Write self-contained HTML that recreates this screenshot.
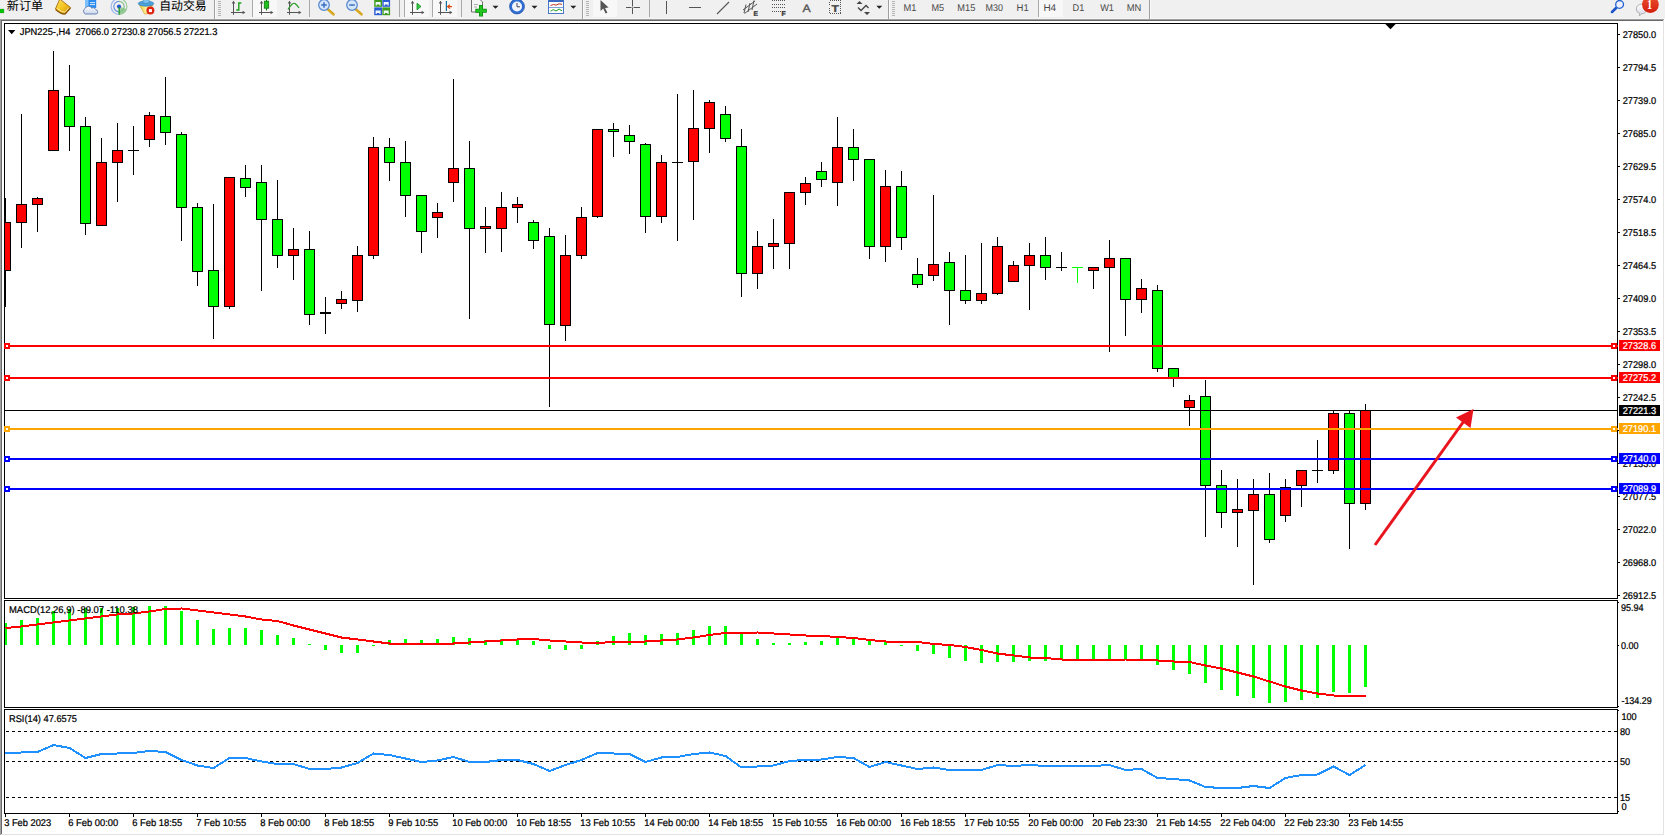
<!DOCTYPE html>
<html lang="zh"><head><meta charset="utf-8"><title>JPN225-,H4</title>
<style>
html,body{margin:0;padding:0;background:#fff;width:1665px;height:836px;overflow:hidden}
svg{display:block;position:absolute;left:0;top:0}
text{font-family:"Liberation Sans","Noto Sans CJK SC",sans-serif;font-size:9.8px;fill:#000;stroke:#000;stroke-width:0.24px;text-rendering:geometricPrecision}
.w{stroke:#fff}
.cn{stroke-width:0.05px}
.tf{stroke:none}
.cn{font-size:12px}
.tf{fill:#4a4a4a;font-size:9.8px}
.w{fill:#fff}
</style></head><body>
<svg width="1665" height="836" viewBox="0 0 1665 836">
<defs>
<linearGradient id="tbb" x1="0" y1="0" x2="0" y2="1"><stop offset="0" stop-color="#f0f0f0"/><stop offset="0.35" stop-color="#8a8a8a"/><stop offset="0.7" stop-color="#9c9c9c"/><stop offset="1" stop-color="#ffffff"/></linearGradient>
<clipPath id="cm"><rect x="5" y="24" width="1612" height="574"/></clipPath>
<clipPath id="ci"><rect x="5" y="601" width="1612" height="212"/></clipPath>
</defs>
<g shape-rendering="crispEdges">
<rect x="0" y="0" width="1665" height="836" fill="#ffffff"/>
<rect x="0" y="0" width="1665" height="19" fill="#f0f0f0"/>
<rect x="0" y="18" width="1665" height="1" fill="#f5f5f5"/>
<rect x="0" y="19" width="1665" height="1" fill="#a0a0a0"/>
<rect x="1" y="20" width="1664" height="1" fill="#696969"/>
<rect x="0" y="19" width="1" height="817" fill="#a0a0a0"/>
<rect x="1" y="20" width="1" height="815" fill="#696969"/>
<rect x="1663" y="20" width="1" height="815" fill="#e3e3e3"/>
<rect x="1664" y="19" width="1" height="817" fill="#ffffff"/>
<rect x="1" y="834" width="1663" height="1" fill="#e3e3e3"/>
<rect x="0" y="835" width="1665" height="1" fill="#ffffff"/>
<rect x="4" y="23" width="1614" height="1" fill="#000"/>
<rect x="4" y="598" width="1614" height="1" fill="#000"/>
<rect x="4" y="23" width="1" height="576" fill="#000"/>
<rect x="1617" y="23" width="1" height="576" fill="#000"/>
<rect x="4" y="600" width="1614" height="1" fill="#000"/>
<rect x="4" y="707" width="1614" height="1" fill="#000"/>
<rect x="4" y="600" width="1" height="108" fill="#000"/>
<rect x="1617" y="600" width="1" height="108" fill="#000"/>
<rect x="4" y="709" width="1614" height="1" fill="#000"/>
<rect x="4" y="813" width="1614" height="1" fill="#000"/>
<rect x="4" y="709" width="1" height="105" fill="#000"/>
<rect x="1617" y="709" width="1" height="105" fill="#000"/>
</g>
<g shape-rendering="crispEdges" clip-path="url(#cm)">
<rect x="5" y="198" width="1" height="109" fill="#000"/>
<rect x="0" y="222" width="11" height="49" fill="#000"/>
<rect x="1" y="223" width="9" height="47" fill="#ff0000"/>
<rect x="21" y="114" width="1" height="134" fill="#000"/>
<rect x="16" y="204" width="11" height="19" fill="#000"/>
<rect x="17" y="205" width="9" height="17" fill="#ff0000"/>
<rect x="37" y="197" width="1" height="35" fill="#000"/>
<rect x="32" y="198" width="11" height="7" fill="#000"/>
<rect x="33" y="199" width="9" height="5" fill="#ff0000"/>
<rect x="53" y="51" width="1" height="100" fill="#000"/>
<rect x="48" y="90" width="11" height="61" fill="#000"/>
<rect x="49" y="91" width="9" height="59" fill="#ff0000"/>
<rect x="69" y="65" width="1" height="86" fill="#000"/>
<rect x="64" y="96" width="11" height="31" fill="#000"/>
<rect x="65" y="97" width="9" height="29" fill="#00ff00"/>
<rect x="85" y="117" width="1" height="118" fill="#000"/>
<rect x="80" y="126" width="11" height="98" fill="#000"/>
<rect x="81" y="127" width="9" height="96" fill="#00ff00"/>
<rect x="101" y="138" width="1" height="88" fill="#000"/>
<rect x="96" y="162" width="11" height="64" fill="#000"/>
<rect x="97" y="163" width="9" height="62" fill="#ff0000"/>
<rect x="117" y="123" width="1" height="79" fill="#000"/>
<rect x="112" y="150" width="11" height="13" fill="#000"/>
<rect x="113" y="151" width="9" height="11" fill="#ff0000"/>
<rect x="133" y="126" width="1" height="49" fill="#000"/>
<rect x="128" y="150" width="11" height="1" fill="#000"/>
<rect x="149" y="112" width="1" height="35" fill="#000"/>
<rect x="144" y="115" width="11" height="25" fill="#000"/>
<rect x="145" y="116" width="9" height="23" fill="#ff0000"/>
<rect x="165" y="77" width="1" height="68" fill="#000"/>
<rect x="160" y="116" width="11" height="17" fill="#000"/>
<rect x="161" y="117" width="9" height="15" fill="#00ff00"/>
<rect x="181" y="132" width="1" height="109" fill="#000"/>
<rect x="176" y="134" width="11" height="74" fill="#000"/>
<rect x="177" y="135" width="9" height="72" fill="#00ff00"/>
<rect x="197" y="203" width="1" height="83" fill="#000"/>
<rect x="192" y="207" width="11" height="65" fill="#000"/>
<rect x="193" y="208" width="9" height="63" fill="#00ff00"/>
<rect x="213" y="204" width="1" height="135" fill="#000"/>
<rect x="208" y="270" width="11" height="37" fill="#000"/>
<rect x="209" y="271" width="9" height="35" fill="#00ff00"/>
<rect x="229" y="177" width="1" height="132" fill="#000"/>
<rect x="224" y="177" width="11" height="130" fill="#000"/>
<rect x="225" y="178" width="9" height="128" fill="#ff0000"/>
<rect x="245" y="165" width="1" height="32" fill="#000"/>
<rect x="240" y="178" width="11" height="10" fill="#000"/>
<rect x="241" y="179" width="9" height="8" fill="#00ff00"/>
<rect x="261" y="165" width="1" height="126" fill="#000"/>
<rect x="256" y="182" width="11" height="38" fill="#000"/>
<rect x="257" y="183" width="9" height="36" fill="#00ff00"/>
<rect x="277" y="180" width="1" height="88" fill="#000"/>
<rect x="272" y="219" width="11" height="37" fill="#000"/>
<rect x="273" y="220" width="9" height="35" fill="#00ff00"/>
<rect x="293" y="228" width="1" height="52" fill="#000"/>
<rect x="288" y="249" width="11" height="7" fill="#000"/>
<rect x="289" y="250" width="9" height="5" fill="#ff0000"/>
<rect x="309" y="231" width="1" height="94" fill="#000"/>
<rect x="304" y="249" width="11" height="66" fill="#000"/>
<rect x="305" y="250" width="9" height="64" fill="#00ff00"/>
<rect x="325" y="297" width="1" height="37" fill="#000"/>
<rect x="320" y="312" width="11" height="2" fill="#000"/>
<rect x="341" y="291" width="1" height="18" fill="#000"/>
<rect x="336" y="299" width="11" height="5" fill="#000"/>
<rect x="337" y="300" width="9" height="3" fill="#ff0000"/>
<rect x="357" y="246" width="1" height="66" fill="#000"/>
<rect x="352" y="255" width="11" height="46" fill="#000"/>
<rect x="353" y="256" width="9" height="44" fill="#ff0000"/>
<rect x="373" y="137" width="1" height="122" fill="#000"/>
<rect x="368" y="147" width="11" height="109" fill="#000"/>
<rect x="369" y="148" width="9" height="107" fill="#ff0000"/>
<rect x="389" y="138" width="1" height="43" fill="#000"/>
<rect x="384" y="147" width="11" height="16" fill="#000"/>
<rect x="385" y="148" width="9" height="14" fill="#00ff00"/>
<rect x="405" y="141" width="1" height="76" fill="#000"/>
<rect x="400" y="162" width="11" height="34" fill="#000"/>
<rect x="401" y="163" width="9" height="32" fill="#00ff00"/>
<rect x="421" y="195" width="1" height="58" fill="#000"/>
<rect x="416" y="195" width="11" height="37" fill="#000"/>
<rect x="417" y="196" width="9" height="35" fill="#00ff00"/>
<rect x="437" y="203" width="1" height="35" fill="#000"/>
<rect x="432" y="212" width="11" height="6" fill="#000"/>
<rect x="433" y="213" width="9" height="4" fill="#ff0000"/>
<rect x="453" y="79" width="1" height="123" fill="#000"/>
<rect x="448" y="168" width="11" height="15" fill="#000"/>
<rect x="449" y="169" width="9" height="13" fill="#ff0000"/>
<rect x="469" y="141" width="1" height="178" fill="#000"/>
<rect x="464" y="168" width="11" height="61" fill="#000"/>
<rect x="465" y="169" width="9" height="59" fill="#00ff00"/>
<rect x="485" y="207" width="1" height="46" fill="#000"/>
<rect x="480" y="226" width="11" height="3" fill="#000"/>
<rect x="481" y="227" width="9" height="1" fill="#ff0000"/>
<rect x="501" y="192" width="1" height="60" fill="#000"/>
<rect x="496" y="207" width="11" height="22" fill="#000"/>
<rect x="497" y="208" width="9" height="20" fill="#ff0000"/>
<rect x="517" y="197" width="1" height="26" fill="#000"/>
<rect x="512" y="204" width="11" height="4" fill="#000"/>
<rect x="513" y="205" width="9" height="2" fill="#ff0000"/>
<rect x="533" y="220" width="1" height="29" fill="#000"/>
<rect x="528" y="222" width="11" height="19" fill="#000"/>
<rect x="529" y="223" width="9" height="17" fill="#00ff00"/>
<rect x="549" y="228" width="1" height="179" fill="#000"/>
<rect x="544" y="236" width="11" height="89" fill="#000"/>
<rect x="545" y="237" width="9" height="87" fill="#00ff00"/>
<rect x="565" y="235" width="1" height="106" fill="#000"/>
<rect x="560" y="255" width="11" height="71" fill="#000"/>
<rect x="561" y="256" width="9" height="69" fill="#ff0000"/>
<rect x="581" y="207" width="1" height="52" fill="#000"/>
<rect x="576" y="217" width="11" height="39" fill="#000"/>
<rect x="577" y="218" width="9" height="37" fill="#ff0000"/>
<rect x="597" y="129" width="1" height="89" fill="#000"/>
<rect x="592" y="129" width="11" height="88" fill="#000"/>
<rect x="593" y="130" width="9" height="86" fill="#ff0000"/>
<rect x="613" y="123" width="1" height="34" fill="#000"/>
<rect x="608" y="129" width="11" height="3" fill="#000"/>
<rect x="609" y="130" width="9" height="1" fill="#00ff00"/>
<rect x="629" y="125" width="1" height="29" fill="#000"/>
<rect x="624" y="135" width="11" height="7" fill="#000"/>
<rect x="625" y="136" width="9" height="5" fill="#00ff00"/>
<rect x="645" y="143" width="1" height="90" fill="#000"/>
<rect x="640" y="144" width="11" height="73" fill="#000"/>
<rect x="641" y="145" width="9" height="71" fill="#00ff00"/>
<rect x="661" y="155" width="1" height="68" fill="#000"/>
<rect x="656" y="162" width="11" height="55" fill="#000"/>
<rect x="657" y="163" width="9" height="53" fill="#ff0000"/>
<rect x="677" y="94" width="1" height="147" fill="#000"/>
<rect x="672" y="162" width="11" height="1" fill="#000"/>
<rect x="693" y="90" width="1" height="130" fill="#000"/>
<rect x="688" y="128" width="11" height="34" fill="#000"/>
<rect x="689" y="129" width="9" height="32" fill="#ff0000"/>
<rect x="709" y="100" width="1" height="53" fill="#000"/>
<rect x="704" y="102" width="11" height="27" fill="#000"/>
<rect x="705" y="103" width="9" height="25" fill="#ff0000"/>
<rect x="725" y="106" width="1" height="36" fill="#000"/>
<rect x="720" y="114" width="11" height="25" fill="#000"/>
<rect x="721" y="115" width="9" height="23" fill="#00ff00"/>
<rect x="741" y="129" width="1" height="168" fill="#000"/>
<rect x="736" y="146" width="11" height="128" fill="#000"/>
<rect x="737" y="147" width="9" height="126" fill="#00ff00"/>
<rect x="757" y="231" width="1" height="58" fill="#000"/>
<rect x="752" y="246" width="11" height="28" fill="#000"/>
<rect x="753" y="247" width="9" height="26" fill="#ff0000"/>
<rect x="773" y="219" width="1" height="50" fill="#000"/>
<rect x="768" y="243" width="11" height="4" fill="#000"/>
<rect x="769" y="244" width="9" height="2" fill="#ff0000"/>
<rect x="789" y="192" width="1" height="77" fill="#000"/>
<rect x="784" y="192" width="11" height="52" fill="#000"/>
<rect x="785" y="193" width="9" height="50" fill="#ff0000"/>
<rect x="805" y="177" width="1" height="28" fill="#000"/>
<rect x="800" y="183" width="11" height="10" fill="#000"/>
<rect x="801" y="184" width="9" height="8" fill="#ff0000"/>
<rect x="821" y="162" width="1" height="25" fill="#000"/>
<rect x="816" y="171" width="11" height="9" fill="#000"/>
<rect x="817" y="172" width="9" height="7" fill="#00ff00"/>
<rect x="837" y="117" width="1" height="89" fill="#000"/>
<rect x="832" y="147" width="11" height="36" fill="#000"/>
<rect x="833" y="148" width="9" height="34" fill="#ff0000"/>
<rect x="853" y="129" width="1" height="52" fill="#000"/>
<rect x="848" y="147" width="11" height="13" fill="#000"/>
<rect x="849" y="148" width="9" height="11" fill="#00ff00"/>
<rect x="869" y="159" width="1" height="100" fill="#000"/>
<rect x="864" y="159" width="11" height="88" fill="#000"/>
<rect x="865" y="160" width="9" height="86" fill="#00ff00"/>
<rect x="885" y="170" width="1" height="92" fill="#000"/>
<rect x="880" y="186" width="11" height="61" fill="#000"/>
<rect x="881" y="187" width="9" height="59" fill="#ff0000"/>
<rect x="901" y="171" width="1" height="79" fill="#000"/>
<rect x="896" y="186" width="11" height="52" fill="#000"/>
<rect x="897" y="187" width="9" height="50" fill="#00ff00"/>
<rect x="917" y="258" width="1" height="30" fill="#000"/>
<rect x="912" y="274" width="11" height="11" fill="#000"/>
<rect x="913" y="275" width="9" height="9" fill="#00ff00"/>
<rect x="933" y="195" width="1" height="86" fill="#000"/>
<rect x="928" y="264" width="11" height="12" fill="#000"/>
<rect x="929" y="265" width="9" height="10" fill="#ff0000"/>
<rect x="949" y="252" width="1" height="73" fill="#000"/>
<rect x="944" y="262" width="11" height="29" fill="#000"/>
<rect x="945" y="263" width="9" height="27" fill="#00ff00"/>
<rect x="965" y="255" width="1" height="49" fill="#000"/>
<rect x="960" y="290" width="11" height="11" fill="#000"/>
<rect x="961" y="291" width="9" height="9" fill="#00ff00"/>
<rect x="981" y="243" width="1" height="61" fill="#000"/>
<rect x="976" y="293" width="11" height="8" fill="#000"/>
<rect x="977" y="294" width="9" height="6" fill="#ff0000"/>
<rect x="997" y="237" width="1" height="58" fill="#000"/>
<rect x="992" y="246" width="11" height="48" fill="#000"/>
<rect x="993" y="247" width="9" height="46" fill="#ff0000"/>
<rect x="1013" y="261" width="1" height="21" fill="#000"/>
<rect x="1008" y="265" width="11" height="17" fill="#000"/>
<rect x="1009" y="266" width="9" height="15" fill="#ff0000"/>
<rect x="1029" y="243" width="1" height="67" fill="#000"/>
<rect x="1024" y="255" width="11" height="11" fill="#000"/>
<rect x="1025" y="256" width="9" height="9" fill="#ff0000"/>
<rect x="1045" y="237" width="1" height="43" fill="#000"/>
<rect x="1040" y="255" width="11" height="13" fill="#000"/>
<rect x="1041" y="256" width="9" height="11" fill="#00ff00"/>
<rect x="1061" y="252" width="1" height="19" fill="#000"/>
<rect x="1056" y="267" width="11" height="1" fill="#000"/>
<rect x="1072" y="267" width="11" height="1" fill="#00ff00"/>
<rect x="1077" y="267" width="1" height="16" fill="#00ff00"/>
<rect x="1093" y="267" width="1" height="22" fill="#000"/>
<rect x="1088" y="267" width="11" height="4" fill="#000"/>
<rect x="1089" y="268" width="9" height="2" fill="#ff0000"/>
<rect x="1109" y="240" width="1" height="112" fill="#000"/>
<rect x="1104" y="258" width="11" height="10" fill="#000"/>
<rect x="1105" y="259" width="9" height="8" fill="#ff0000"/>
<rect x="1125" y="258" width="1" height="78" fill="#000"/>
<rect x="1120" y="258" width="11" height="42" fill="#000"/>
<rect x="1121" y="259" width="9" height="40" fill="#00ff00"/>
<rect x="1141" y="279" width="1" height="34" fill="#000"/>
<rect x="1136" y="288" width="11" height="12" fill="#000"/>
<rect x="1137" y="289" width="9" height="10" fill="#ff0000"/>
<rect x="1157" y="285" width="1" height="87" fill="#000"/>
<rect x="1152" y="290" width="11" height="79" fill="#000"/>
<rect x="1153" y="291" width="9" height="77" fill="#00ff00"/>
<rect x="1173" y="368" width="1" height="19" fill="#000"/>
<rect x="1168" y="368" width="11" height="11" fill="#000"/>
<rect x="1169" y="369" width="9" height="9" fill="#00ff00"/>
<rect x="1189" y="395" width="1" height="31" fill="#000"/>
<rect x="1184" y="400" width="11" height="8" fill="#000"/>
<rect x="1185" y="401" width="9" height="6" fill="#ff0000"/>
<rect x="1205" y="380" width="1" height="157" fill="#000"/>
<rect x="1200" y="396" width="11" height="90" fill="#000"/>
<rect x="1201" y="397" width="9" height="88" fill="#00ff00"/>
<rect x="1221" y="470" width="1" height="58" fill="#000"/>
<rect x="1216" y="485" width="11" height="28" fill="#000"/>
<rect x="1217" y="486" width="9" height="26" fill="#00ff00"/>
<rect x="1237" y="479" width="1" height="68" fill="#000"/>
<rect x="1232" y="509" width="11" height="4" fill="#000"/>
<rect x="1233" y="510" width="9" height="2" fill="#ff0000"/>
<rect x="1253" y="479" width="1" height="106" fill="#000"/>
<rect x="1248" y="494" width="11" height="17" fill="#000"/>
<rect x="1249" y="495" width="9" height="15" fill="#ff0000"/>
<rect x="1269" y="473" width="1" height="70" fill="#000"/>
<rect x="1264" y="494" width="11" height="46" fill="#000"/>
<rect x="1265" y="495" width="9" height="44" fill="#00ff00"/>
<rect x="1285" y="479" width="1" height="43" fill="#000"/>
<rect x="1280" y="487" width="11" height="29" fill="#000"/>
<rect x="1281" y="488" width="9" height="27" fill="#ff0000"/>
<rect x="1301" y="470" width="1" height="37" fill="#000"/>
<rect x="1296" y="470" width="11" height="16" fill="#000"/>
<rect x="1297" y="471" width="9" height="14" fill="#ff0000"/>
<rect x="1317" y="440" width="1" height="43" fill="#000"/>
<rect x="1312" y="470" width="11" height="1" fill="#000"/>
<rect x="1333" y="410" width="1" height="64" fill="#000"/>
<rect x="1328" y="413" width="11" height="58" fill="#000"/>
<rect x="1329" y="414" width="9" height="56" fill="#ff0000"/>
<rect x="1349" y="410" width="1" height="139" fill="#000"/>
<rect x="1344" y="413" width="11" height="91" fill="#000"/>
<rect x="1345" y="414" width="9" height="89" fill="#00ff00"/>
<rect x="1365" y="404" width="1" height="106" fill="#000"/>
<rect x="1360" y="410" width="11" height="94" fill="#000"/>
<rect x="1361" y="411" width="9" height="92" fill="#ff0000"/>
</g>
<g shape-rendering="crispEdges">
<rect x="5" y="410" width="1612" height="1" fill="#000"/>
<rect x="5" y="345" width="1612" height="2" fill="#ff0000"/>
<rect x="1617" y="345" width="1" height="2" fill="#ff0000"/>
<rect x="4" y="343" width="6" height="6" fill="#ff0000"/>
<rect x="6" y="345" width="2" height="2" fill="#fff"/>
<rect x="1611" y="343" width="6" height="6" fill="#ff0000"/>
<rect x="1613" y="345" width="2" height="2" fill="#fff"/>
<rect x="5" y="377" width="1612" height="2" fill="#ff0000"/>
<rect x="1617" y="377" width="1" height="2" fill="#ff0000"/>
<rect x="4" y="375" width="6" height="6" fill="#ff0000"/>
<rect x="6" y="377" width="2" height="2" fill="#fff"/>
<rect x="1611" y="375" width="6" height="6" fill="#ff0000"/>
<rect x="1613" y="377" width="2" height="2" fill="#fff"/>
<rect x="5" y="428" width="1612" height="2" fill="#ffa500"/>
<rect x="1617" y="428" width="1" height="2" fill="#ffa500"/>
<rect x="4" y="426" width="6" height="6" fill="#ffa500"/>
<rect x="6" y="428" width="2" height="2" fill="#fff"/>
<rect x="1611" y="426" width="6" height="6" fill="#ffa500"/>
<rect x="1613" y="428" width="2" height="2" fill="#fff"/>
<rect x="5" y="458" width="1612" height="2" fill="#0000ff"/>
<rect x="1617" y="458" width="1" height="2" fill="#0000ff"/>
<rect x="4" y="456" width="6" height="6" fill="#0000ff"/>
<rect x="6" y="458" width="2" height="2" fill="#fff"/>
<rect x="1611" y="456" width="6" height="6" fill="#0000ff"/>
<rect x="1613" y="458" width="2" height="2" fill="#fff"/>
<rect x="5" y="488" width="1612" height="2" fill="#0000ff"/>
<rect x="1617" y="488" width="1" height="2" fill="#0000ff"/>
<rect x="4" y="486" width="6" height="6" fill="#0000ff"/>
<rect x="6" y="488" width="2" height="2" fill="#fff"/>
<rect x="1611" y="486" width="6" height="6" fill="#0000ff"/>
<rect x="1613" y="488" width="2" height="2" fill="#fff"/>
</g>
<g>
<line x1="1375" y1="545" x2="1464" y2="421" stroke="#e8141e" stroke-width="3"/>
<polygon points="1473.5,409 1456,417.5 1470.5,428" fill="#e8141e"/>
</g>
<polygon points="1385.3,24 1395.7,24 1390.5,29.2" fill="#000"/>
<polygon points="8,30 15.4,30 11.7,34.2" fill="#000"/>
<g shape-rendering="crispEdges" clip-path="url(#ci)">
<rect x="4" y="623" width="3" height="22" fill="#00ff00"/>
<rect x="20" y="620" width="3" height="25" fill="#00ff00"/>
<rect x="36" y="618" width="3" height="27" fill="#00ff00"/>
<rect x="52" y="611" width="3" height="34" fill="#00ff00"/>
<rect x="68" y="609" width="3" height="36" fill="#00ff00"/>
<rect x="84" y="608" width="3" height="37" fill="#00ff00"/>
<rect x="100" y="608" width="3" height="37" fill="#00ff00"/>
<rect x="116" y="608" width="3" height="37" fill="#00ff00"/>
<rect x="132" y="607" width="3" height="38" fill="#00ff00"/>
<rect x="148" y="606" width="3" height="39" fill="#00ff00"/>
<rect x="164" y="606" width="3" height="39" fill="#00ff00"/>
<rect x="180" y="611" width="3" height="34" fill="#00ff00"/>
<rect x="196" y="620" width="3" height="25" fill="#00ff00"/>
<rect x="212" y="629" width="3" height="16" fill="#00ff00"/>
<rect x="228" y="628" width="3" height="17" fill="#00ff00"/>
<rect x="244" y="628" width="3" height="17" fill="#00ff00"/>
<rect x="260" y="630" width="3" height="15" fill="#00ff00"/>
<rect x="276" y="635" width="3" height="10" fill="#00ff00"/>
<rect x="292" y="638" width="3" height="7" fill="#00ff00"/>
<rect x="308" y="644" width="3" height="1" fill="#00ff00"/>
<rect x="324" y="645" width="3" height="5" fill="#00ff00"/>
<rect x="340" y="645" width="3" height="8" fill="#00ff00"/>
<rect x="356" y="645" width="3" height="8" fill="#00ff00"/>
<rect x="372" y="645" width="3" height="1" fill="#00ff00"/>
<rect x="388" y="640" width="3" height="5" fill="#00ff00"/>
<rect x="404" y="639" width="3" height="6" fill="#00ff00"/>
<rect x="420" y="640" width="3" height="5" fill="#00ff00"/>
<rect x="436" y="639" width="3" height="6" fill="#00ff00"/>
<rect x="452" y="637" width="3" height="8" fill="#00ff00"/>
<rect x="468" y="638" width="3" height="7" fill="#00ff00"/>
<rect x="484" y="640" width="3" height="5" fill="#00ff00"/>
<rect x="500" y="639" width="3" height="6" fill="#00ff00"/>
<rect x="516" y="640" width="3" height="5" fill="#00ff00"/>
<rect x="532" y="641" width="3" height="4" fill="#00ff00"/>
<rect x="548" y="645" width="3" height="4" fill="#00ff00"/>
<rect x="564" y="645" width="3" height="5" fill="#00ff00"/>
<rect x="580" y="645" width="3" height="4" fill="#00ff00"/>
<rect x="596" y="641" width="3" height="4" fill="#00ff00"/>
<rect x="612" y="636" width="3" height="9" fill="#00ff00"/>
<rect x="628" y="633" width="3" height="12" fill="#00ff00"/>
<rect x="644" y="635" width="3" height="10" fill="#00ff00"/>
<rect x="660" y="634" width="3" height="11" fill="#00ff00"/>
<rect x="676" y="633" width="3" height="12" fill="#00ff00"/>
<rect x="692" y="630" width="3" height="15" fill="#00ff00"/>
<rect x="708" y="626" width="3" height="19" fill="#00ff00"/>
<rect x="724" y="626" width="3" height="19" fill="#00ff00"/>
<rect x="740" y="633" width="3" height="12" fill="#00ff00"/>
<rect x="756" y="639" width="3" height="6" fill="#00ff00"/>
<rect x="772" y="643" width="3" height="2" fill="#00ff00"/>
<rect x="788" y="643" width="3" height="2" fill="#00ff00"/>
<rect x="804" y="642" width="3" height="3" fill="#00ff00"/>
<rect x="820" y="641" width="3" height="4" fill="#00ff00"/>
<rect x="836" y="638" width="3" height="7" fill="#00ff00"/>
<rect x="852" y="638" width="3" height="7" fill="#00ff00"/>
<rect x="868" y="641" width="3" height="4" fill="#00ff00"/>
<rect x="884" y="642" width="3" height="3" fill="#00ff00"/>
<rect x="900" y="645" width="3" height="1" fill="#00ff00"/>
<rect x="916" y="645" width="3" height="6" fill="#00ff00"/>
<rect x="932" y="645" width="3" height="9" fill="#00ff00"/>
<rect x="948" y="645" width="3" height="13" fill="#00ff00"/>
<rect x="964" y="645" width="3" height="16" fill="#00ff00"/>
<rect x="980" y="645" width="3" height="18" fill="#00ff00"/>
<rect x="996" y="645" width="3" height="17" fill="#00ff00"/>
<rect x="1012" y="645" width="3" height="17" fill="#00ff00"/>
<rect x="1028" y="645" width="3" height="16" fill="#00ff00"/>
<rect x="1044" y="645" width="3" height="16" fill="#00ff00"/>
<rect x="1060" y="645" width="3" height="15" fill="#00ff00"/>
<rect x="1076" y="645" width="3" height="15" fill="#00ff00"/>
<rect x="1092" y="645" width="3" height="15" fill="#00ff00"/>
<rect x="1108" y="645" width="3" height="15" fill="#00ff00"/>
<rect x="1124" y="645" width="3" height="15" fill="#00ff00"/>
<rect x="1140" y="645" width="3" height="15" fill="#00ff00"/>
<rect x="1156" y="645" width="3" height="20" fill="#00ff00"/>
<rect x="1172" y="645" width="3" height="25" fill="#00ff00"/>
<rect x="1188" y="645" width="3" height="29" fill="#00ff00"/>
<rect x="1204" y="645" width="3" height="38" fill="#00ff00"/>
<rect x="1220" y="645" width="3" height="45" fill="#00ff00"/>
<rect x="1236" y="645" width="3" height="51" fill="#00ff00"/>
<rect x="1252" y="645" width="3" height="53" fill="#00ff00"/>
<rect x="1268" y="645" width="3" height="58" fill="#00ff00"/>
<rect x="1284" y="645" width="3" height="57" fill="#00ff00"/>
<rect x="1300" y="645" width="3" height="55" fill="#00ff00"/>
<rect x="1316" y="645" width="3" height="53" fill="#00ff00"/>
<rect x="1332" y="645" width="3" height="47" fill="#00ff00"/>
<rect x="1348" y="645" width="3" height="48" fill="#00ff00"/>
<rect x="1364" y="645" width="3" height="42" fill="#00ff00"/>
<polyline points="5.5,628 21.5,626.5 37.5,624.5 53.5,622.5 69.5,620.5 85.5,618.5 101.5,616.5 117.5,614.5 133.5,613.5 149.5,611.5 165.5,609 181.5,608.5 197.5,610.5 213.5,612.5 229.5,614.5 245.5,616.5 261.5,619.5 277.5,621 293.5,625.5 309.5,629.5 325.5,633.5 341.5,637.5 357.5,639.5 373.5,641.5 389.5,643.5 405.5,643.5 421.5,643.5 437.5,643.5 453.5,643.5 469.5,642.5 485.5,641.5 501.5,640.5 517.5,639.5 533.5,639 549.5,640.5 565.5,641.5 581.5,642.5 597.5,643 613.5,642 629.5,642 645.5,641.5 661.5,640.5 677.5,639.5 693.5,637.5 709.5,635 725.5,633 741.5,633 757.5,632.5 773.5,633.5 789.5,634.5 805.5,635.5 821.5,636 837.5,637 853.5,638 869.5,640 885.5,641.5 901.5,642 917.5,642 933.5,644 949.5,645 965.5,647 981.5,650 997.5,653.5 1013.5,655.5 1029.5,657.5 1045.5,658 1061.5,659.5 1077.5,660 1093.5,660 1109.5,660 1125.5,659.5 1141.5,659.5 1157.5,660.5 1173.5,661.5 1189.5,662 1205.5,665.5 1221.5,668.5 1237.5,672.5 1253.5,676.5 1269.5,681.5 1285.5,686.5 1301.5,690.5 1317.5,693.5 1333.5,695.5 1349.5,696 1365.5,696" fill="none" stroke="#ff0000" stroke-width="2"/>
</g>
<g shape-rendering="crispEdges" clip-path="url(#ci)">
<line x1="6" y1="731.5" x2="1617" y2="731.5" stroke="#000" stroke-width="1" stroke-dasharray="3 3"/>
<line x1="6" y1="761.5" x2="1617" y2="761.5" stroke="#000" stroke-width="1" stroke-dasharray="3 3"/>
<line x1="6" y1="797.5" x2="1617" y2="797.5" stroke="#000" stroke-width="1" stroke-dasharray="3 3"/>
<polyline points="5.5,753 21.5,752.5 37.5,752 53.5,745 69.5,748 85.5,758 101.5,754 117.5,753.5 133.5,753 149.5,751 165.5,752 181.5,760 197.5,765.5 213.5,768 229.5,758 245.5,758 261.5,761.5 277.5,764 293.5,764 309.5,769 325.5,769 341.5,767.5 357.5,763 373.5,753.5 389.5,755 405.5,758.5 421.5,762 437.5,760.5 453.5,757 469.5,762 485.5,762 501.5,760 517.5,760 533.5,764 549.5,771 565.5,765 581.5,760 597.5,753 613.5,753.5 629.5,754 645.5,762 661.5,757.5 677.5,757 693.5,754 709.5,752.5 725.5,756 741.5,767.5 757.5,766.5 773.5,765.5 789.5,761 805.5,760 821.5,759.5 837.5,757 853.5,758 869.5,767 885.5,762 901.5,765.5 917.5,769 933.5,767.5 949.5,770 965.5,770 981.5,770 997.5,765 1013.5,766 1029.5,765 1045.5,766 1061.5,766 1077.5,766 1093.5,766 1109.5,765 1125.5,770 1141.5,769 1157.5,778 1173.5,779 1189.5,780.5 1205.5,787 1221.5,788 1237.5,788 1253.5,786 1269.5,788 1285.5,778 1301.5,775 1317.5,774.5 1333.5,766.5 1349.5,775 1365.5,765" fill="none" stroke="#1e90ff" stroke-width="2"/>
</g>
<g shape-rendering="crispEdges">
<rect x="1618" y="34" width="2" height="1" fill="#000"/>
<rect x="1618" y="67" width="2" height="1" fill="#000"/>
<rect x="1618" y="100" width="2" height="1" fill="#000"/>
<rect x="1618" y="133" width="2" height="1" fill="#000"/>
<rect x="1618" y="166" width="2" height="1" fill="#000"/>
<rect x="1618" y="199" width="2" height="1" fill="#000"/>
<rect x="1618" y="232" width="2" height="1" fill="#000"/>
<rect x="1618" y="265" width="2" height="1" fill="#000"/>
<rect x="1618" y="298" width="2" height="1" fill="#000"/>
<rect x="1618" y="331" width="2" height="1" fill="#000"/>
<rect x="1618" y="364" width="2" height="1" fill="#000"/>
<rect x="1618" y="397" width="2" height="1" fill="#000"/>
<rect x="1618" y="430" width="2" height="1" fill="#000"/>
<rect x="1618" y="463" width="2" height="1" fill="#000"/>
<rect x="1618" y="496" width="2" height="1" fill="#000"/>
<rect x="1618" y="529" width="2" height="1" fill="#000"/>
<rect x="1618" y="562" width="2" height="1" fill="#000"/>
<rect x="1618" y="595" width="2" height="1" fill="#000"/>
<rect x="1618" y="645" width="1" height="1" fill="#000"/>
<rect x="1618" y="602" width="1" height="1" fill="#000"/>
<rect x="1618" y="706" width="1" height="1" fill="#000"/>
<rect x="1618" y="710" width="1" height="1" fill="#000"/>
<rect x="1618" y="811" width="1" height="1" fill="#000"/>
</g>
<text x="1622.7" y="38" textLength="33.4" lengthAdjust="spacingAndGlyphs">27850.0</text>
<text x="1622.7" y="71" textLength="33.4" lengthAdjust="spacingAndGlyphs">27794.5</text>
<text x="1622.7" y="104" textLength="33.4" lengthAdjust="spacingAndGlyphs">27739.0</text>
<text x="1622.7" y="137" textLength="33.4" lengthAdjust="spacingAndGlyphs">27685.0</text>
<text x="1622.7" y="170" textLength="33.4" lengthAdjust="spacingAndGlyphs">27629.5</text>
<text x="1622.7" y="203" textLength="33.4" lengthAdjust="spacingAndGlyphs">27574.0</text>
<text x="1622.7" y="236" textLength="33.4" lengthAdjust="spacingAndGlyphs">27518.5</text>
<text x="1622.7" y="269" textLength="33.4" lengthAdjust="spacingAndGlyphs">27464.5</text>
<text x="1622.7" y="302" textLength="33.4" lengthAdjust="spacingAndGlyphs">27409.0</text>
<text x="1622.7" y="335" textLength="33.4" lengthAdjust="spacingAndGlyphs">27353.5</text>
<text x="1622.7" y="368" textLength="33.4" lengthAdjust="spacingAndGlyphs">27298.0</text>
<text x="1622.7" y="401" textLength="33.4" lengthAdjust="spacingAndGlyphs">27242.5</text>
<text x="1622.7" y="467" textLength="33.4" lengthAdjust="spacingAndGlyphs">27133.0</text>
<text x="1622.7" y="500" textLength="33.4" lengthAdjust="spacingAndGlyphs">27077.5</text>
<text x="1622.7" y="533" textLength="33.4" lengthAdjust="spacingAndGlyphs">27022.0</text>
<text x="1622.7" y="566" textLength="33.4" lengthAdjust="spacingAndGlyphs">26968.0</text>
<text x="1622.7" y="599" textLength="33.4" lengthAdjust="spacingAndGlyphs">26912.5</text>
<g shape-rendering="crispEdges">
<rect x="1619" y="340" width="41" height="11" fill="#ff0000"/>
<rect x="1619" y="372" width="41" height="11" fill="#ff0000"/>
<rect x="1619" y="423" width="41" height="11" fill="#ffa500"/>
<rect x="1619" y="453" width="41" height="11" fill="#0000ff"/>
<rect x="1619" y="483" width="41" height="11" fill="#0000ff"/>
<rect x="1619" y="405" width="41" height="11" fill="#000"/>
</g>
<text class="w" x="1622.7" y="349" textLength="33.4" lengthAdjust="spacingAndGlyphs">27328.6</text>
<text class="w" x="1622.7" y="381" textLength="33.4" lengthAdjust="spacingAndGlyphs">27275.2</text>
<text class="w" x="1622.7" y="432" textLength="33.4" lengthAdjust="spacingAndGlyphs">27190.1</text>
<text class="w" x="1622.7" y="462" textLength="33.4" lengthAdjust="spacingAndGlyphs">27140.0</text>
<text class="w" x="1622.7" y="492" textLength="33.4" lengthAdjust="spacingAndGlyphs">27089.9</text>
<text class="w" x="1622.7" y="414" textLength="33.4" lengthAdjust="spacingAndGlyphs">27221.3</text>
<text x="1621" y="611" textLength="22.6" lengthAdjust="spacingAndGlyphs">95.94</text>
<text x="1621" y="649" textLength="17.6" lengthAdjust="spacingAndGlyphs">0.00</text>
<text x="1621.4" y="704" textLength="30.4" lengthAdjust="spacingAndGlyphs">-134.29</text>
<text x="1621.4" y="720" textLength="15.2" lengthAdjust="spacingAndGlyphs">100</text>
<text x="1620" y="735" textLength="10.2" lengthAdjust="spacingAndGlyphs">80</text>
<text x="1620" y="765" textLength="10.2" lengthAdjust="spacingAndGlyphs">50</text>
<text x="1620" y="801" textLength="10.2" lengthAdjust="spacingAndGlyphs">15</text>
<text x="1621.4" y="810.3" textLength="5.2" lengthAdjust="spacingAndGlyphs">0</text>
<text x="19.8" y="34.9" textLength="197.5" lengthAdjust="spacingAndGlyphs">JPN225-,H4&#160;&#160;27066.0 27230.8 27056.5 27221.3</text>
<text x="9" y="612.9" textLength="129" lengthAdjust="spacingAndGlyphs">MACD(12,26,9) -89.07 -110.38</text>
<text x="9" y="721.9" textLength="68" lengthAdjust="spacingAndGlyphs">RSI(14) 47.6575</text>
<g shape-rendering="crispEdges">
<rect x="5" y="814" width="1" height="3" fill="#000"/>
<rect x="69" y="814" width="1" height="3" fill="#000"/>
<rect x="133" y="814" width="1" height="3" fill="#000"/>
<rect x="197" y="814" width="1" height="3" fill="#000"/>
<rect x="261" y="814" width="1" height="3" fill="#000"/>
<rect x="325" y="814" width="1" height="3" fill="#000"/>
<rect x="389" y="814" width="1" height="3" fill="#000"/>
<rect x="453" y="814" width="1" height="3" fill="#000"/>
<rect x="517" y="814" width="1" height="3" fill="#000"/>
<rect x="581" y="814" width="1" height="3" fill="#000"/>
<rect x="645" y="814" width="1" height="3" fill="#000"/>
<rect x="709" y="814" width="1" height="3" fill="#000"/>
<rect x="773" y="814" width="1" height="3" fill="#000"/>
<rect x="837" y="814" width="1" height="3" fill="#000"/>
<rect x="901" y="814" width="1" height="3" fill="#000"/>
<rect x="965" y="814" width="1" height="3" fill="#000"/>
<rect x="1029" y="814" width="1" height="3" fill="#000"/>
<rect x="1093" y="814" width="1" height="3" fill="#000"/>
<rect x="1157" y="814" width="1" height="3" fill="#000"/>
<rect x="1221" y="814" width="1" height="3" fill="#000"/>
<rect x="1285" y="814" width="1" height="3" fill="#000"/>
<rect x="1349" y="814" width="1" height="3" fill="#000"/>
</g>
<text x="4.2" y="826" textLength="47" lengthAdjust="spacingAndGlyphs">3 Feb 2023</text>
<text x="68.2" y="826" textLength="50" lengthAdjust="spacingAndGlyphs">6 Feb 00:00</text>
<text x="132.2" y="826" textLength="50" lengthAdjust="spacingAndGlyphs">6 Feb 18:55</text>
<text x="196.2" y="826" textLength="50" lengthAdjust="spacingAndGlyphs">7 Feb 10:55</text>
<text x="260.2" y="826" textLength="50" lengthAdjust="spacingAndGlyphs">8 Feb 00:00</text>
<text x="324.2" y="826" textLength="50" lengthAdjust="spacingAndGlyphs">8 Feb 18:55</text>
<text x="388.2" y="826" textLength="50" lengthAdjust="spacingAndGlyphs">9 Feb 10:55</text>
<text x="452.2" y="826" textLength="55" lengthAdjust="spacingAndGlyphs">10 Feb 00:00</text>
<text x="516.2" y="826" textLength="55" lengthAdjust="spacingAndGlyphs">10 Feb 18:55</text>
<text x="580.2" y="826" textLength="55" lengthAdjust="spacingAndGlyphs">13 Feb 10:55</text>
<text x="644.2" y="826" textLength="55" lengthAdjust="spacingAndGlyphs">14 Feb 00:00</text>
<text x="708.2" y="826" textLength="55" lengthAdjust="spacingAndGlyphs">14 Feb 18:55</text>
<text x="772.2" y="826" textLength="55" lengthAdjust="spacingAndGlyphs">15 Feb 10:55</text>
<text x="836.2" y="826" textLength="55" lengthAdjust="spacingAndGlyphs">16 Feb 00:00</text>
<text x="900.2" y="826" textLength="55" lengthAdjust="spacingAndGlyphs">16 Feb 18:55</text>
<text x="964.2" y="826" textLength="55" lengthAdjust="spacingAndGlyphs">17 Feb 10:55</text>
<text x="1028.2" y="826" textLength="55" lengthAdjust="spacingAndGlyphs">20 Feb 00:00</text>
<text x="1092.2" y="826" textLength="55" lengthAdjust="spacingAndGlyphs">20 Feb 23:30</text>
<text x="1156.2" y="826" textLength="55" lengthAdjust="spacingAndGlyphs">21 Feb 14:55</text>
<text x="1220.2" y="826" textLength="55" lengthAdjust="spacingAndGlyphs">22 Feb 04:00</text>
<text x="1284.2" y="826" textLength="55" lengthAdjust="spacingAndGlyphs">22 Feb 23:30</text>
<text x="1348.2" y="826" textLength="55" lengthAdjust="spacingAndGlyphs">23 Feb 14:55</text>
<g id="toolbar">
<g shape-rendering="crispEdges">
<rect x="253" y="0" width="24" height="17" fill="#f8f8f8"/>
<rect x="405" y="0" width="24" height="17" fill="#f8f8f8"/>
<rect x="433" y="0" width="24" height="17" fill="#f8f8f8"/>
<rect x="593" y="0" width="24" height="17" fill="#f8f8f8"/>
<rect x="1039" y="0" width="24" height="17" fill="#f8f8f8"/>
<rect x="252" y="0" width="1" height="17" fill="#a9a9a9"/>
<rect x="309" y="0" width="1" height="17" fill="#a9a9a9"/>
<rect x="399" y="0" width="1" height="17" fill="#a9a9a9"/>
<rect x="404" y="0" width="1" height="17" fill="#a9a9a9"/>
<rect x="432" y="0" width="1" height="17" fill="#a9a9a9"/>
<rect x="461" y="0" width="1" height="17" fill="#a9a9a9"/>
<rect x="649" y="0" width="1" height="17" fill="#a9a9a9"/>
<rect x="1038" y="0" width="1" height="17" fill="#a9a9a9"/>
<rect x="214" y="0" width="1" height="19" fill="#a0a0a0"/><rect x="215" y="0" width="1" height="19" fill="#fbfbfb"/>
<rect x="582" y="0" width="1" height="19" fill="#a0a0a0"/><rect x="583" y="0" width="1" height="19" fill="#fbfbfb"/>
<rect x="888" y="0" width="1" height="19" fill="#a0a0a0"/><rect x="889" y="0" width="1" height="19" fill="#fbfbfb"/>
<rect x="1149" y="0" width="1" height="19" fill="#a0a0a0"/><rect x="1150" y="0" width="1" height="19" fill="#fbfbfb"/>
<rect x="218" y="1" width="3" height="1" fill="#b5b5b5"/>
<rect x="218" y="3" width="3" height="1" fill="#b5b5b5"/>
<rect x="218" y="5" width="3" height="1" fill="#b5b5b5"/>
<rect x="218" y="7" width="3" height="1" fill="#b5b5b5"/>
<rect x="218" y="9" width="3" height="1" fill="#b5b5b5"/>
<rect x="218" y="11" width="3" height="1" fill="#b5b5b5"/>
<rect x="218" y="13" width="3" height="1" fill="#b5b5b5"/>
<rect x="218" y="15" width="3" height="1" fill="#b5b5b5"/>
<rect x="586" y="1" width="3" height="1" fill="#b5b5b5"/>
<rect x="586" y="3" width="3" height="1" fill="#b5b5b5"/>
<rect x="586" y="5" width="3" height="1" fill="#b5b5b5"/>
<rect x="586" y="7" width="3" height="1" fill="#b5b5b5"/>
<rect x="586" y="9" width="3" height="1" fill="#b5b5b5"/>
<rect x="586" y="11" width="3" height="1" fill="#b5b5b5"/>
<rect x="586" y="13" width="3" height="1" fill="#b5b5b5"/>
<rect x="586" y="15" width="3" height="1" fill="#b5b5b5"/>
<rect x="892" y="1" width="3" height="1" fill="#b5b5b5"/>
<rect x="892" y="3" width="3" height="1" fill="#b5b5b5"/>
<rect x="892" y="5" width="3" height="1" fill="#b5b5b5"/>
<rect x="892" y="7" width="3" height="1" fill="#b5b5b5"/>
<rect x="892" y="9" width="3" height="1" fill="#b5b5b5"/>
<rect x="892" y="11" width="3" height="1" fill="#b5b5b5"/>
<rect x="892" y="13" width="3" height="1" fill="#b5b5b5"/>
<rect x="892" y="15" width="3" height="1" fill="#b5b5b5"/>
</g>
<rect x="-1" y="9.2" width="4.8" height="3.6" fill="#00c800" stroke="#009a00" stroke-width="0.6"/>
<text class="cn" x="6.8" y="9.8" textLength="36.4" lengthAdjust="spacingAndGlyphs">新订单</text>
<defs><linearGradient id="gbk" x1="0" y1="0" x2="1" y2="1"><stop offset="0" stop-color="#ffe860"/><stop offset="0.55" stop-color="#f2c020"/><stop offset="1" stop-color="#c88a10"/></linearGradient><linearGradient id="gcl" x1="0" y1="0" x2="0" y2="1"><stop offset="0" stop-color="#ffffff"/><stop offset="1" stop-color="#c9d6ec"/></linearGradient><linearGradient id="ghat" x1="0" y1="0" x2="1" y2="0"><stop offset="0" stop-color="#f0c828"/><stop offset="0.5" stop-color="#fff2a0"/><stop offset="1" stop-color="#e8b820"/></linearGradient></defs>
<path d="M59.8 -1 L70.6 7.6 L65.3 14 Q62 14.6 55.4 9 Z" fill="url(#gbk)" stroke="#a86c10" stroke-width="0.9"/>
<path d="M55.6 9.4 Q61.5 14.6 65.2 13.8 L70.4 8" stroke="#8c5a0c" stroke-width="1.3" fill="none"/>
<path d="M57.4 8.6 Q62.2 12.6 65 12.2 L69 7.6" stroke="#fff0b0" stroke-width="0.8" fill="none"/>
<path d="M85 -1 H96.2 V8 H85 Z" fill="#2a8cf0"/>
<path d="M85 -1 H88.5 V8 H85 Z" fill="#7cc0ff"/>
<path d="M90 2.6 H95 M90 4.6 H95" stroke="#e8f4ff" stroke-width="0.9"/>
<path d="M85.4 14 a3.1 3.1 0 0 1 -0.2 -5.6 a3.6 3.6 0 0 1 6.4 -0.4 a2.9 2.9 0 0 1 4 1.5 a2.5 2.5 0 0 1 1 4.5 Z" fill="url(#gcl)" stroke="#5f7bb2" stroke-width="0.9"/>
<path d="M119 -1.3 A7.9 7.9 0 0 0 119 14.5" fill="none" stroke="#9db8ea" stroke-width="1.2"/>
<path d="M119 1.4 A5.2 5.2 0 0 0 119 11.8" fill="none" stroke="#6f96e0" stroke-width="1.2"/>
<path d="M119 -1.3 A7.9 7.9 0 0 1 119 14.5" fill="none" stroke="#9ccb9c" stroke-width="1.2"/>
<path d="M119 1.4 A5.2 5.2 0 0 1 119 11.8" fill="none" stroke="#84bd8a" stroke-width="1.2"/>
<path d="M119 6.6 L119 14.4 A7.8 7.8 0 0 0 126.4 9 Z" fill="#7fc07f" opacity="0.75"/>
<circle cx="119" cy="6.6" r="2.1" fill="#2a58d0"/>
<rect x="118.5" y="7" width="1.3" height="7.6" fill="#1f9a2a"/>
<path d="M139.5 5 L152.8 5 L147.2 14 L144.6 14 Z" fill="url(#ghat)" stroke="#c89c20" stroke-width="0.6"/>
<ellipse cx="146" cy="3.6" rx="7.8" ry="2.6" fill="#4aa0d8" stroke="#2f7ab4" stroke-width="0.6"/>
<path d="M142.6 2.6 Q143.5 -2 145.8 -3 L147 -3 Q148.8 -2 149.8 2.6 Q146 4.2 142.6 2.6 Z" fill="#7cc0ec" stroke="#2f7ab4" stroke-width="0.5"/>
<circle cx="150.4" cy="10.6" r="4" fill="#e02410"/>
<rect x="148.9" y="9.1" width="3" height="3" fill="#fff"/>
<text class="cn" x="159.2" y="9.7" textLength="47.4" lengthAdjust="spacingAndGlyphs">自动交易</text>
<path d="M233.5 1.5 V14.8 M231 12.5 H244.6" stroke="#555" stroke-width="1" fill="none"/><path d="M231.7 3.6 L233.5 0.8 L235.3 3.6 Z M242.6 10.7 L245.4 12.5 L242.6 14.3 Z" fill="#555"/>
<path d="M236.3 10 H238.8 V3 H241.3" stroke="#18a018" stroke-width="1.4" fill="none" stroke-linejoin="miter"/>
<path d="M261.5 1.5 V14.8 M259 12.5 H272.6" stroke="#555" stroke-width="1" fill="none"/><path d="M259.7 3.6 L261.5 0.8 L263.3 3.6 Z M270.6 10.7 L273.4 12.5 L270.6 14.3 Z" fill="#555"/>
<path d="M266.5 0 V10.5" stroke="#0a7a0a" stroke-width="1"/>
<rect x="264.3" y="1.2" width="4.4" height="7" fill="#20c020" stroke="#0a7a0a" stroke-width="0.8"/>
<path d="M289.5 1.5 V14.8 M287 12.5 H300.6" stroke="#555" stroke-width="1" fill="none"/><path d="M287.7 3.6 L289.5 0.8 L291.3 3.6 Z M298.6 10.7 L301.4 12.5 L298.6 14.3 Z" fill="#555"/>
<path d="M288 9.5 Q292.5 1.8 295 3.6 T299 8" stroke="#2c9a2c" stroke-width="1.2" fill="none"/>
<path d="M327.5 9 L333.5 14.3" stroke="#d8a820" stroke-width="2.6" stroke-linecap="round"/>
<circle cx="324" cy="5" r="5.3" fill="#d6e6fa" stroke="#5a8bd0" stroke-width="1.3"/>
<path d="M321.2 5 H326.8" stroke="#3a6fc0" stroke-width="1.5"/>
<path d="M324 2.2 V7.8" stroke="#3a6fc0" stroke-width="1.5"/>
<path d="M355.5 9 L361.5 14.3" stroke="#d8a820" stroke-width="2.6" stroke-linecap="round"/>
<circle cx="352" cy="5" r="5.3" fill="#d6e6fa" stroke="#5a8bd0" stroke-width="1.3"/>
<path d="M349.2 5 H354.8" stroke="#3a6fc0" stroke-width="1.5"/>
<rect x="374.2" y="-1" width="7.8" height="7.8" fill="#3d9c1e"/>
<path d="M375.59999999999997 5.6 V2 H380.59999999999997 V5.6 H379.4 V4.6 H376.8 V5.6 Z" fill="#f4f8ff"/>
<rect x="382.3" y="-1" width="7.8" height="7.8" fill="#2a5cd2"/>
<path d="M383.7 5.6 V2 H388.7 V5.6 H387.5 V4.6 H384.90000000000003 V5.6 Z" fill="#f4f8ff"/>
<rect x="374.2" y="7.4" width="7.8" height="7.8" fill="#2a5cd2"/>
<path d="M375.59999999999997 14.0 V10.4 H380.59999999999997 V14.0 H379.4 V13.0 H376.8 V14.0 Z" fill="#f4f8ff"/>
<rect x="382.3" y="7.4" width="7.8" height="7.8" fill="#3d9c1e"/>
<path d="M383.7 14.0 V10.4 H388.7 V14.0 H387.5 V13.0 H384.90000000000003 V14.0 Z" fill="#f4f8ff"/>
<path d="M412.5 1.5 V14.8 M410 12.5 H423.6" stroke="#555" stroke-width="1" fill="none"/><path d="M410.7 3.6 L412.5 0.8 L414.3 3.6 Z M421.6 10.7 L424.4 12.5 L421.6 14.3 Z" fill="#555"/>
<path d="M417 3.2 L421 6.5 L417 9.8 Z" fill="#30d040" stroke="#0f8a1a" stroke-width="0.8"/>
<path d="M440.5 1.5 V14.8 M438 12.5 H451.6" stroke="#555" stroke-width="1" fill="none"/><path d="M438.7 3.6 L440.5 0.8 L442.3 3.6 Z M449.6 10.7 L452.4 12.5 L449.6 14.3 Z" fill="#555"/>
<path d="M446.4 1 V11" stroke="#1470a0" stroke-width="1.2"/>
<path d="M452 6.6 H448 M450 4.6 L447.6 6.6 L450 8.6" stroke="#d84a10" stroke-width="1.2" fill="none"/>
<path d="M471.5 -1 H479.5 L482.5 2 V12 H471.5 Z" fill="#f6f6f6" stroke="#707070" stroke-width="1"/>
<path d="M474 4.5 H478 M474 7 H477" stroke="#9a9a9a" stroke-width="0.8"/>
<path d="M481 5 V16.5 M475.3 10.8 H486.8" stroke="#0c8a0c" stroke-width="4"/>
<path d="M481 5.8 V15.8 M476.1 10.8 H486" stroke="#22c422" stroke-width="2.4"/>
<circle cx="517" cy="6.5" r="7.4" fill="#2f6fd6" stroke="#1d4fa8" stroke-width="0.8"/>
<circle cx="517" cy="6.5" r="5" fill="#f2f6fc"/>
<path d="M517 3 V6.8 H520" stroke="#445" stroke-width="1" fill="none"/>
<rect x="548.5" y="-1" width="15" height="14.5" fill="#fbfcfe" stroke="#4a78c8" stroke-width="1"/>
<rect x="548.5" y="-1" width="15" height="3" fill="#3a68c0"/>
<path d="M548.5 7.2 H563.5" stroke="#4a78c8" stroke-width="0.7" shape-rendering="crispEdges"/>
<path d="M550.5 5.5 L553.5 4.5 L556 5.2 L559 3.8 L562 4.4" stroke="#c03020" stroke-width="1" fill="none"/>
<path d="M550.5 11.2 L553.5 9.6 L556 11 L559 9 L562 10.8" stroke="#20a020" stroke-width="1" fill="none"/>
<path d="M492.5 5.8 H498.5 L495.5 8.8 Z" fill="#222"/>
<path d="M531.5 5.8 H537.5 L534.5 8.8 Z" fill="#222"/>
<path d="M570.3 5.8 H576.3 L573.3 8.8 Z" fill="#222"/>
<path d="M876.3 5.8 H882.3 L879.3 8.8 Z" fill="#222"/>
<path d="M600.5 0 V11 L603.2 8.6 L605.6 13.6 L607.4 12.8 L605.1 7.9 L608.6 7.6 Z" fill="#555"/>
<path d="M632.5 0 V14 M625.5 7 H639.5" stroke="#555" stroke-width="1" shape-rendering="crispEdges"/>
<rect x="631.5" y="6" width="2" height="2" fill="#f0f0f0"/><rect x="632" y="6.5" width="1" height="1" fill="#555"/>
<path d="M666.5 1 V14" stroke="#555" stroke-width="1" shape-rendering="crispEdges"/>
<path d="M689 7.5 H701" stroke="#555" stroke-width="1" shape-rendering="crispEdges"/>
<path d="M717 14 L729 2" stroke="#555" stroke-width="1.1"/>
<path d="M743 10 L755 1 M744.5 13.5 L757 4 M746 4.5 L744 13 M750 3 L748 12 M754 0.5 L752 10" stroke="#555" stroke-width="1" fill="none"/>
<text x="753.5" y="15.8" style="font-size:6.8px;font-weight:bold;fill:#444">E</text>
<path d="M771.5 0.5 H784.5" stroke="#555" stroke-width="1" stroke-dasharray="1 1" shape-rendering="crispEdges"/>
<path d="M771.5 4.5 H784.5" stroke="#555" stroke-width="1" stroke-dasharray="1 1" shape-rendering="crispEdges"/>
<path d="M771.5 7.5 H784.5" stroke="#555" stroke-width="1" stroke-dasharray="1 1" shape-rendering="crispEdges"/>
<path d="M771.5 11.5 H784.5" stroke="#555" stroke-width="1" stroke-dasharray="1 1" shape-rendering="crispEdges"/>
<text x="781.5" y="15.8" style="font-size:6.8px;font-weight:bold;fill:#444">F</text>
<text x="802.4" y="11.6" style="font-size:10.8px;fill:#555;stroke:#555;stroke-width:0.35px" textLength="8.2" lengthAdjust="spacingAndGlyphs">A</text>
<rect x="829.5" y="0.5" width="11" height="13" fill="none" stroke="#555" stroke-width="1" stroke-dasharray="1 1" shape-rendering="crispEdges"/>
<text x="831.6" y="11.8" style="font-size:10px;fill:#555;font-weight:bold" textLength="7.4" lengthAdjust="spacingAndGlyphs">T</text>
<path d="M856.5 4 L859.5 1 L862.5 4 Z M864 12 L867 15 L870 12 Z" fill="#444"/>
<path d="M858 7.5 L861 10.5 L866 5.5 L868.5 8" stroke="#444" stroke-width="1.3" fill="none"/>
<text class="tf" x="903.5" y="10.6" textLength="13" lengthAdjust="spacingAndGlyphs">M1</text>
<text class="tf" x="931.5" y="10.6" textLength="12.7" lengthAdjust="spacingAndGlyphs">M5</text>
<text class="tf" x="957.3" y="10.6" textLength="18" lengthAdjust="spacingAndGlyphs">M15</text>
<text class="tf" x="985.5" y="10.6" textLength="17.5" lengthAdjust="spacingAndGlyphs">M30</text>
<text class="tf" x="1016.5" y="10.6" textLength="12.2" lengthAdjust="spacingAndGlyphs">H1</text>
<text class="tf" x="1043.4" y="10.6" textLength="12.8" lengthAdjust="spacingAndGlyphs">H4</text>
<text class="tf" x="1072.5" y="10.6" textLength="11.8" lengthAdjust="spacingAndGlyphs">D1</text>
<text class="tf" x="1100.2" y="10.6" textLength="13.8" lengthAdjust="spacingAndGlyphs">W1</text>
<text class="tf" x="1126.8" y="10.6" textLength="14.6" lengthAdjust="spacingAndGlyphs">MN</text>
<path d="M1616.6 7.6 L1612 11.9" stroke="#1c55c8" stroke-width="2.7" stroke-linecap="round"/>
<circle cx="1619.6" cy="4.4" r="3.9" fill="#eef0ff" stroke="#2460d0" stroke-width="1.3"/>
<defs><linearGradient id="gbd" x1="0" y1="0" x2="0" y2="1"><stop offset="0" stop-color="#ec5030"/><stop offset="1" stop-color="#d41c0c"/></linearGradient><linearGradient id="gbb" x1="0" y1="0" x2="0" y2="1"><stop offset="0" stop-color="#ffffff"/><stop offset="1" stop-color="#d6d6e6"/></linearGradient></defs>
<path d="M1636.3 9 a5.3 4.8 0 1 1 5.6 4.7 l-2.6 2 l0.4 -2.3 a5 4.6 0 0 1 -3.4 -4.4 Z" fill="url(#gbb)" stroke="#a8a8a8" stroke-width="0.9"/>
<circle cx="1650.4" cy="4.6" r="8.4" fill="url(#gbd)"/>
<text x="1647" y="9" style="font-family:'Liberation Serif',serif;font-size:13.5px;font-weight:bold;fill:#fff;stroke:none" textLength="5.2" lengthAdjust="spacingAndGlyphs">1</text>
</g>
</svg></body></html>
